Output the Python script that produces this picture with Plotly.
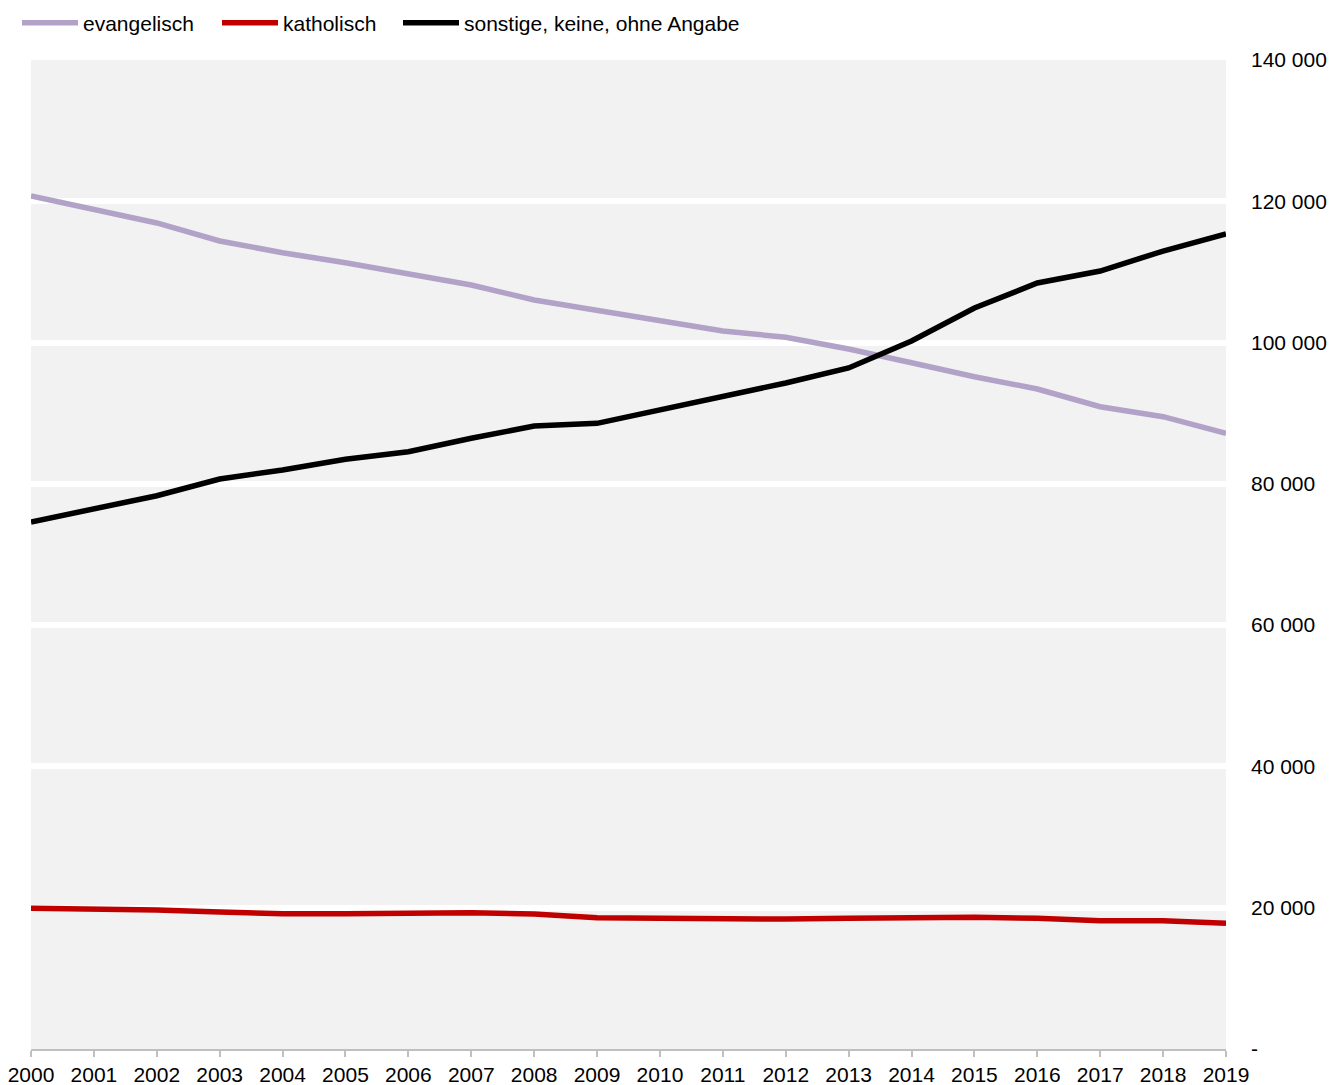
import plotly.graph_objects as go

years = list(range(2000, 2020))
evangelisch = [120750, 118870, 116930, 114380, 112720, 111310, 109780, 108150, 106030, 104610,
               103100, 101640, 100750, 99090, 97150, 95170, 93430, 90920, 89510, 87160]
katholisch = [19920, 19820, 19680, 19390, 19150, 19150, 19290, 19290, 19110, 18590,
              18500, 18360, 18400, 18500, 18640, 18640, 18500, 18160, 18160, 17790]
sonstige = [74600, 76400, 78320, 80690, 81960, 83480, 84550, 86450, 88190, 88570,
            90460, 92440, 94280, 96400, 100220, 104890, 108430, 110130, 112960, 115370]

series = [
    ("evangelisch", evangelisch, "#b3a2c7", "legend"),
    ("katholisch", katholisch, "#c00000", "legend2"),
    ("sonstige, keine, ohne Angabe", sonstige, "#000000", "legend3"),
]

ytick_vals = [0, 20000, 40000, 60000, 80000, 100000, 120000, 140000]
ytick_text = ["-", "20 000", "40 000", "60 000", "80 000", "100 000", "120 000", "140 000"]

W, H = 1330, 1085
fig = go.Figure()
for name, vals, col, lg in series:
    fig.add_trace(go.Scatter(x=years, y=vals, name=name, mode="lines", legend=lg,
                             line=dict(color=col, width=5.5), cliponaxis=False))


def leg(px):
    return dict(orientation="h", x=(px - 5) / W, xref="container", xanchor="left",
                y=1 - 23 / H, yref="container", yanchor="middle",
                font=dict(size=21), itemwidth=56, bgcolor="rgba(0,0,0,0)")


fig.update_layout(
    width=W, height=H,
    margin=dict(l=31, r=104, t=60, b=36, autoexpand=False),
    paper_bgcolor="white", plot_bgcolor="#f2f2f2",
    font=dict(family="Liberation Sans, Arial, sans-serif", size=21, color="#000000"),
    showlegend=True,
    legend=leg(22), legend2=leg(222), legend3=leg(403),
    xaxis=dict(range=[2000, 2019], tickmode="array", tickvals=years, automargin=False,
               ticktext=[str(y) for y in years], showgrid=False, zeroline=False,
               showline=True, linecolor="#bfbfbf", linewidth=2,
               ticks="outside", ticklen=6, tickwidth=2, tickcolor="#bfbfbf",
               ticklabeloverflow="allow", tickfont=dict(size=21)),
    yaxis=dict(range=[0, 140000], side="right", tickmode="array", tickvals=ytick_vals,
               automargin=False, ticklabeloverflow="allow",
               ticktext=ytick_text, showgrid=True, gridcolor="white", gridwidth=6,
               zeroline=False, showline=False, ticks="", ticklabelstandoff=24,
               tickfont=dict(size=21)),
)

fig.write_html("out.html", config={"displayModeBar": False},
               post_script="document.body.style.margin='0';document.body.style.overflow='hidden';")
